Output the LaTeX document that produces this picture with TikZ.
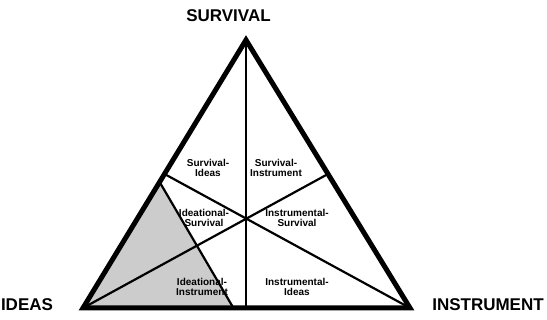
\documentclass[tikz,border=0pt]{standalone}
\usepackage{fontspec}
\setmainfont{Liberation Sans}
\usetikzlibrary{calc}

\begin{document}
\begin{tikzpicture}[x=1pt, y=1pt,
  corner/.style={font=\fontsize{17}{17}\selectfont\bfseries, inner sep=0pt},
  pair/.style={font=\fontsize{10}{10}\selectfont\bfseries, align=center, inner sep=0pt},
  rim/.style={line width=5pt, line join=miter},
  spoke/.style={line width=2.2pt}]
\useasboundingbox (0,0) rectangle (547,320);
% corners of the triangle
\coordinate (surv) at (246,280);
\coordinate (idea) at (83,12);
\coordinate (inst) at (410,12);
% shaded part on the ideas side
\coordinate (shtop) at ($(surv)!0.53!(idea)$);
\coordinate (shbot) at ($(idea)!0.46!(inst)$);
\fill[gray!40] (idea) -- (shtop) -- (shbot) -- cycle;
\draw[spoke] (shtop) -- (shbot);
% medians
\draw[spoke] (surv) -- (surv |- idea);
\draw[spoke] (idea) -- ($(surv)!0.5!(inst)$);
\draw[spoke] (inst) -- ($(surv)!0.5!(idea)$);
\draw[rim] (surv) -- (idea) -- (inst) -- cycle;
% labels
\node[corner] (lsurv) at (228.5,304) {SURVIVAL};
\node[corner] (lidea) at (27,15) {IDEAS};
\node[corner] (linst) at (488,15) {INSTRUMENT};
\node[pair] (si) at (208,152) {Survival-\\Ideas};
\node[pair] (sn) at (276,152) {Survival-\\Instrument};
\node[pair] (is) at (204,102) {Ideational-\\Survival};
\node[pair] (ns) at (297,102) {Instrumental-\\Survival};
\node[pair] (in) at (202,33) {Ideational-\\Instrument};
\node[pair] (ni) at (297,33) {Instrumental-\\Ideas};
\end{tikzpicture}
\end{document}
